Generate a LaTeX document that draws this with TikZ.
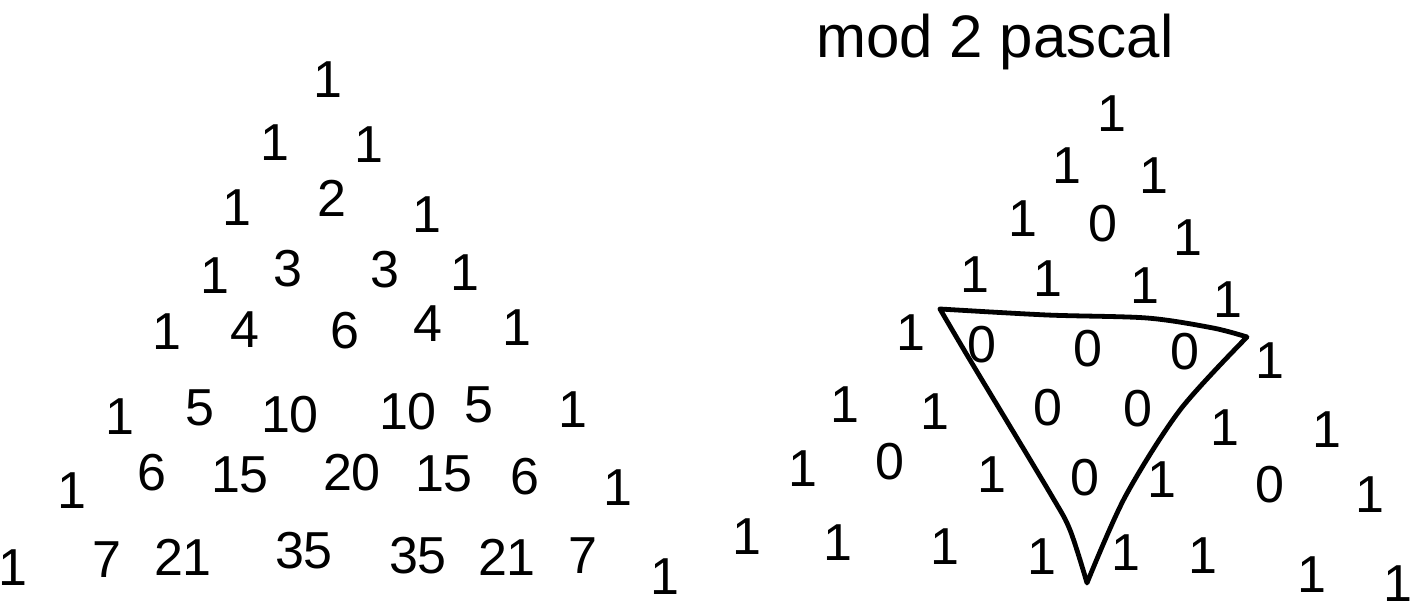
\documentclass[tikz,border=0pt]{standalone}
\usepackage{fontspec}
\setmainfont{Liberation Sans}
\usepackage{tikz}

\begin{document}
\begin{tikzpicture}[x=0.5pt,y=-0.5pt,
  num/.style={inner sep=0pt,font=\fontsize{26}{28}\selectfont},
  ttl/.style={inner sep=0pt,anchor=base,font=\fontsize{30}{32}\selectfont},
  edge/.style={line width=2.4pt,line join=round,line cap=round}]
\useasboundingbox (0,0) rectangle (1421,614);
% Pascal
\node[num] (l00) at (328,80) {1};
\node[num] (l10) at (275,143) {1};
\node[num] (l11) at (369,145) {1};
\node[num] (l20) at (237,208) {1};
\node[num] (l21) at (332,198) {2};
\node[num] (l22) at (427,215) {1};
\node[num] (l30) at (215,276) {1};
\node[num] (l31) at (288,269) {3};
\node[num] (l32) at (385,270) {3};
\node[num] (l33) at (465,273) {1};
\node[num] (l40) at (167,332) {1};
\node[num] (l41) at (245,330) {4};
\node[num] (l42) at (345,331) {6};
\node[num] (l43) at (428,324) {4};
\node[num] (l44) at (517,328) {1};
\node[num] (l50) at (120,417) {1};
\node[num] (l51) at (200,408) {5};
\node[num] (l52) at (290,415) {10};
\node[num] (l53) at (408,412) {10};
\node[num] (l54) at (479,405) {5};
\node[num] (l55) at (573,410) {1};
\node[num] (l60) at (72,491) {1};
\node[num] (l61) at (152,473) {6};
\node[num] (l62) at (240,475) {15};
\node[num] (l63) at (352,473) {20};
\node[num] (l64) at (444,474) {15};
\node[num] (l65) at (525,477) {6};
\node[num] (l66) at (618,488) {1};
\node[num] (l70) at (13,568) {1};
\node[num] (l71) at (107,560) {7};
\node[num] (l72) at (183,557) {21};
\node[num] (l73) at (304,551) {35};
\node[num] (l74) at (418,556) {35};
\node[num] (l75) at (507,557) {21};
\node[num] (l76) at (583,556) {7};
\node[num] (l77) at (665,577) {1};
% mod 2
\node[ttl] (title) at (995,58) {mod 2 pascal};
\node[num] (r00) at (1112,114) {1};
\node[num] (r10) at (1067,166) {1};
\node[num] (r11) at (1154,176) {1};
\node[num] (r20) at (1023,219) {1};
\node[num] (r21) at (1103,224) {0};
\node[num] (r22) at (1188,238) {1};
\node[num] (r30) at (975,275) {1};
\node[num] (r31) at (1048,279) {1};
\node[num] (r32) at (1145,286) {1};
\node[num] (r33) at (1228,300) {1};
\node[num] (r40) at (911,333) {1};
\node[num] (r41) at (982,345) {0};
\node[num] (r42) at (1088,349) {0};
\node[num] (r43) at (1185,352) {0};
\node[num] (r44) at (1270,361) {1};
\node[num] (r50) at (845,405) {1};
\node[num] (r51) at (935,412) {1};
\node[num] (r52) at (1048,408) {0};
\node[num] (r53) at (1138,409) {0};
\node[num] (r54) at (1225,428) {1};
\node[num] (r55) at (1327,430) {1};
\node[num] (r60) at (803,469) {1};
\node[num] (r61) at (890,462) {0};
\node[num] (r62) at (992,475) {1};
\node[num] (r63) at (1085,478) {0};
\node[num] (r64) at (1162,480) {1};
\node[num] (r65) at (1270,485) {0};
\node[num] (r66) at (1370,495) {1};
\node[num] (r70) at (747,537) {1};
\node[num] (r71) at (838,543) {1};
\node[num] (r72) at (945,547) {1};
\node[num] (r73) at (1042,557) {1};
\node[num] (r74) at (1126,553) {1};
\node[num] (r75) at (1203,556) {1};
\node[num] (r76) at (1312,575) {1};
\node[num] (r77) at (1398,584) {1};
\draw[edge] plot[smooth] coordinates {(940,309) (1047,315) (1147,318) (1213,328) (1247,337)}
  -- plot[smooth] coordinates {(1247,337) (1180,410) (1125,497) (1087,583)}
  -- plot[smooth] coordinates {(1087,583) (1070,530) (1050,493) (970,360) (940,309)};
\end{tikzpicture}
\end{document}
